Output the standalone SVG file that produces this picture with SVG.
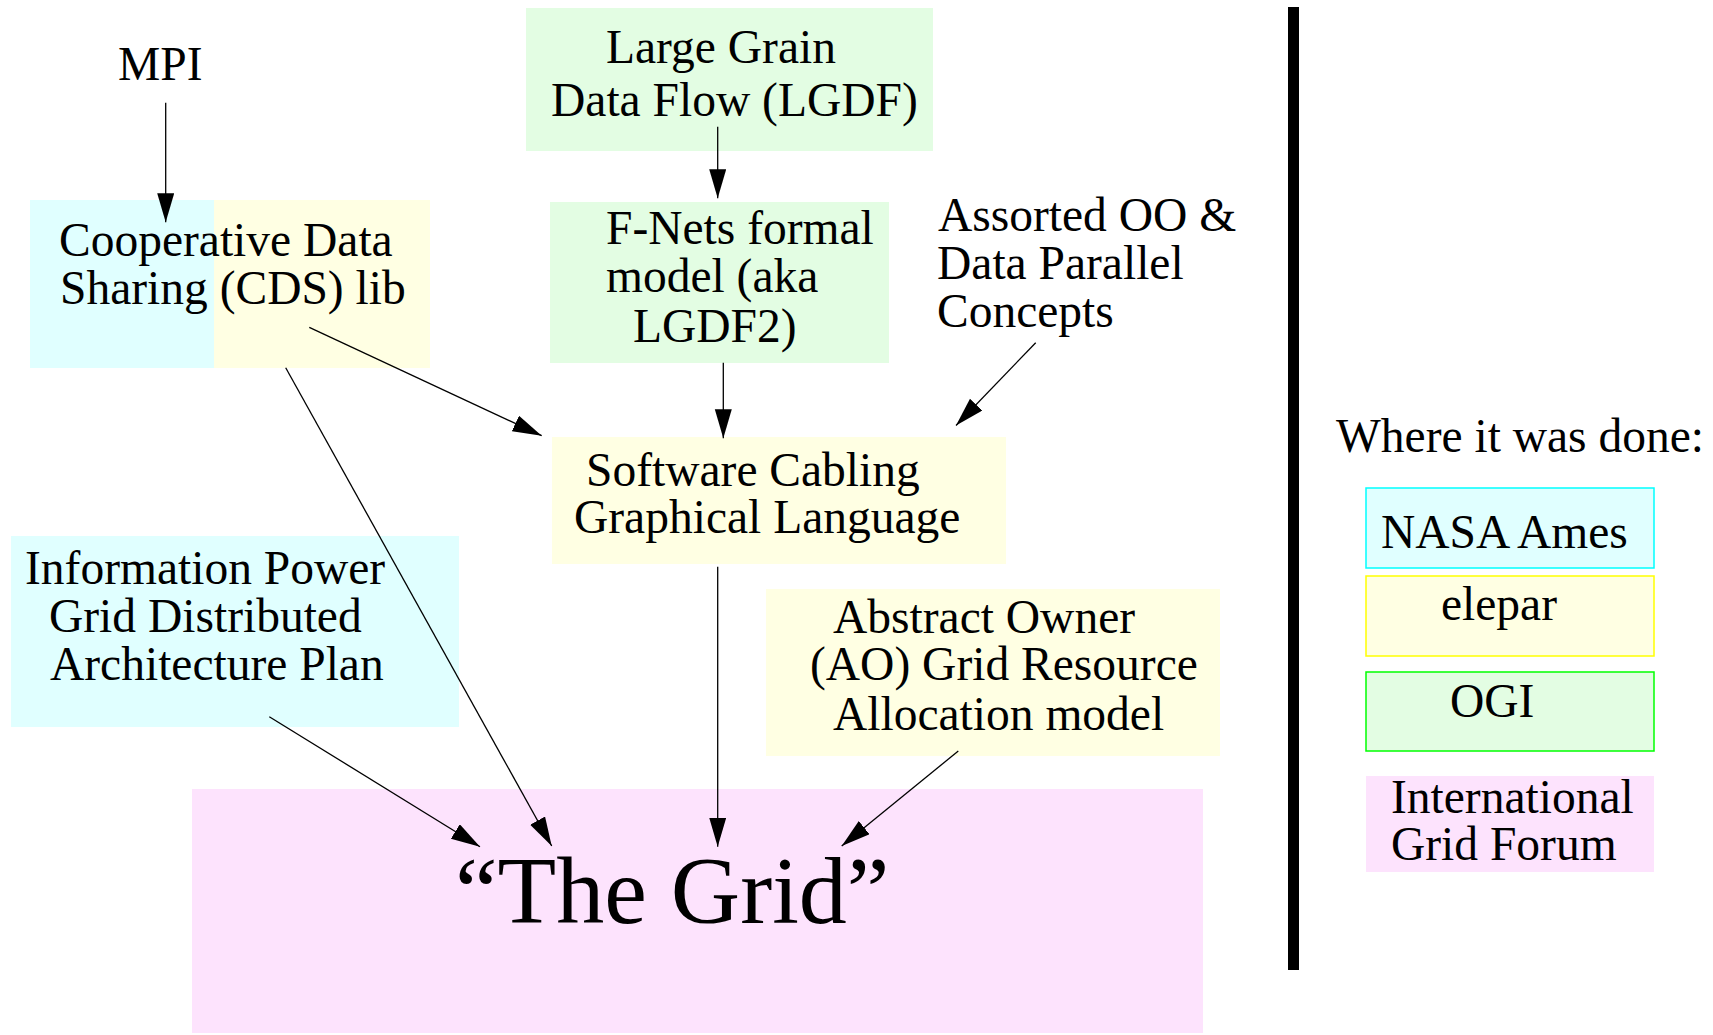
<svg xmlns="http://www.w3.org/2000/svg" width="1713" height="1035" viewBox="0 0 1713 1035">
  <style>
    text { font-family: "Liberation Serif", "Times New Roman", serif; font-size: 47.5px; fill: #000; }
    .big { font-size: 96px; }
    .cyan { fill: #e0ffff; }
    .yellow { fill: #ffffe3; }
    .green { fill: #e3fde3; }
    .pink { fill: #fde3fd; }
    .conn { stroke: #000; stroke-width: 1.3; fill: none; marker-end: url(#arrow); }
  </style>
  <defs>
    <marker id="arrow" markerUnits="userSpaceOnUse" markerWidth="30" markerHeight="18" refX="29" refY="8.5" orient="auto">
      <path d="M0,0 L29,8.5 L0,17 z" fill="#000"/>
    </marker>
  </defs>

  <rect width="1713" height="1035" fill="#fff"/>

  <!-- nodes -->
  <g id="grid">
    <rect class="pink" x="192" y="789" width="1011" height="244"/>
    <text class="big" x="455" y="923">“The Grid”</text>
  </g>

  <g id="mpi">
    <text x="118" y="80">MPI</text>
  </g>

  <g id="cds">
    <rect class="cyan" x="30" y="200" width="184" height="168"/>
    <rect class="yellow" x="214" y="200" width="216" height="168"/>
    <text x="59" y="256">Cooperative Data</text>
    <text x="60" y="304">Sharing (CDS) lib</text>
  </g>

  <g id="lgdf">
    <rect class="green" x="526" y="8" width="407" height="143"/>
    <text x="606" y="63">Large Grain</text>
    <text x="551" y="116">Data Flow (LGDF)</text>
  </g>

  <g id="fnets">
    <rect class="green" x="550" y="202" width="339" height="161"/>
    <text x="606" y="244">F-Nets formal</text>
    <text x="606" y="292">model (aka</text>
    <text x="633" y="342">LGDF2)</text>
  </g>

  <g id="assorted">
    <text x="938" y="231">Assorted OO &amp;</text>
    <text x="937" y="279">Data Parallel</text>
    <text x="937" y="327">Concepts</text>
  </g>

  <g id="cabling">
    <rect class="yellow" x="552" y="437" width="454" height="127"/>
    <text x="586" y="486">Software Cabling</text>
    <text x="574" y="533">Graphical Language</text>
  </g>

  <g id="ipg">
    <rect class="cyan" x="11" y="536" width="448" height="191"/>
    <text x="25" y="584">Information Power</text>
    <text x="49" y="631.5">Grid Distributed</text>
    <text x="50" y="680">Architecture Plan</text>
  </g>

  <g id="ao">
    <rect class="yellow" x="766" y="589" width="454" height="167"/>
    <text x="833" y="633">Abstract Owner</text>
    <text x="810" y="680">(AO) Grid Resource</text>
    <text x="833" y="730">Allocation model</text>
  </g>

  <!-- connectors -->
  <g id="connectors">
    <line class="conn" x1="165.7" y1="102.7" x2="165.7" y2="222.3"/>
    <line class="conn" x1="717.7" y1="126.7" x2="717.7" y2="198.3"/>
    <line class="conn" x1="723.3" y1="362.7" x2="723.3" y2="438.3"/>
    <line class="conn" x1="309.3" y1="327.3" x2="541.7" y2="435.7"/>
    <line class="conn" x1="1035.7" y1="342.7" x2="956" y2="425.5"/>
    <line class="conn" x1="717.7" y1="566.7" x2="717.7" y2="846.7"/>
    <line class="conn" x1="285.7" y1="367.7" x2="551.7" y2="846"/>
    <line class="conn" x1="269.3" y1="716.7" x2="480" y2="846.7"/>
    <line class="conn" x1="958.3" y1="751" x2="841.7" y2="846"/>
  </g>

  <!-- divider between the diagram and the legend -->
  <rect id="divider" x="1288" y="7" width="11" height="963" fill="#000"/>

  <!-- legend -->
  <g id="legend">
    <text x="1336" y="451.7">Where it was done:</text>
    <g id="legend-nasa">
      <rect x="1366" y="488" width="288" height="80" fill="#e0ffff" stroke="#00ffff" stroke-width="1.5"/>
      <text x="1381" y="548.3">NASA Ames</text>
    </g>
    <g id="legend-elepar">
      <rect x="1366" y="576" width="288" height="80" fill="#ffffe3" stroke="#ffff00" stroke-width="1.5"/>
      <text x="1441" y="620">elepar</text>
    </g>
    <g id="legend-ogi">
      <rect x="1366" y="672" width="288" height="79" fill="#e3fde3" stroke="#00ff00" stroke-width="1.5"/>
      <text x="1450" y="716.7">OGI</text>
    </g>
    <g id="legend-igf">
      <rect x="1366" y="776" width="288" height="96" fill="#fde3fd"/>
      <text x="1391" y="812.7">International</text>
      <text x="1391" y="860">Grid Forum</text>
    </g>
  </g>
</svg>
